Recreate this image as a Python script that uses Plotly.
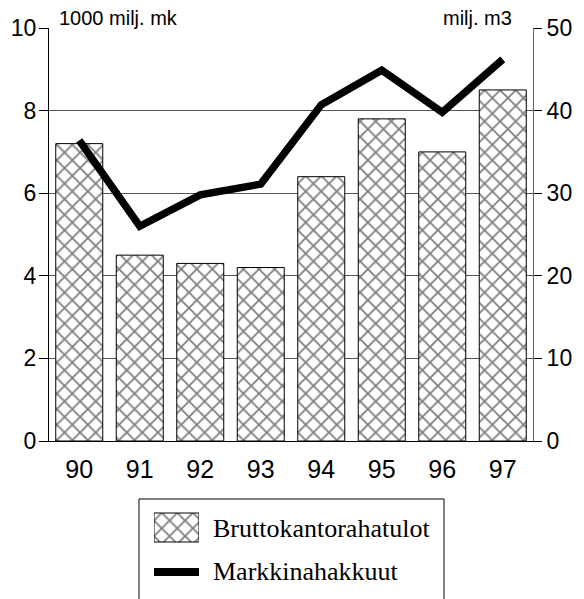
import plotly.graph_objects as go

years = ["90", "91", "92", "93", "94", "95", "96", "97"]
brutto = [7.2, 4.5, 4.3, 4.2, 6.4, 7.8, 7.0, 8.5]          # 1000 milj. mk
hakkuut = [36.4, 26.0, 29.8, 31.1, 40.7, 44.9, 39.8, 46.2]  # milj. m3
left_ticks = [0, 2, 4, 6, 8, 10]
right_ticks = [0, 10, 20, 30, 40, 50]
bar_name = "Bruttokantorahatulot"
line_name = "Markkinahakkuut"
left_unit = "1000 milj. mk"
right_unit = "milj. m3"

W, H = 584, 599
ML, MR, MT, MB = 49, 51, 28, 10
PW, PH = W - ML - MR, H - MT - MB


def px(x):
    return (x - ML) / PW


def py(y):
    return (H - MB - y) / PH


pattern = dict(shape="x", fgcolor="black", bgcolor="white", size=11, solidity=0.3)
sans = "Liberation Sans, Arial, sans-serif"
serif = "Liberation Serif, Times New Roman, serif"

fig = go.Figure()
fig.add_trace(go.Bar(
    x=years, y=brutto, name=bar_name, yaxis="y", xaxis="x",
    marker=dict(color="white", pattern=pattern, line=dict(color="black", width=1)),
    showlegend=False,
))
fig.add_trace(go.Scatter(
    x=years, y=hakkuut, name=line_name, yaxis="y2", xaxis="x",
    mode="lines", line=dict(color="black", width=7.5),
    showlegend=False,
))

# legend swatches drawn on a small helper axis (pixel-like units)
fig.add_trace(go.Bar(
    x=[0], y=[29], base=[43], width=[1], xaxis="x3", yaxis="y3",
    marker=dict(color="white", pattern=pattern, line=dict(color="black", width=1)),
    showlegend=False, hoverinfo="skip",
))
fig.add_trace(go.Scatter(
    x=[-0.5, 0.5], y=[13, 13], xaxis="x3", yaxis="y3", mode="lines",
    line=dict(color="black", width=8), showlegend=False, hoverinfo="skip",
))

main_bottom = py(441)
fig.update_layout(
    width=W, height=H,
    margin=dict(l=ML, r=MR, t=MT, b=MB, pad=0, autoexpand=False),
    paper_bgcolor="white", plot_bgcolor="white",
    bargap=0.223,
    font=dict(family=sans, color="black"),
    xaxis=dict(
        type="category", range=[-0.5, 7.5], domain=[0, 1], anchor="y",
        showline=True, linecolor="black", linewidth=1, ticks="",
        tickfont=dict(size=25, family=sans), ticklabelstandoff=6,
        showgrid=False, zeroline=False, fixedrange=True, automargin=False,
    ),
    yaxis=dict(
        range=[0, 10], tickvals=left_ticks, domain=[main_bottom, 1], anchor="x",
        showline=True, linecolor="black", linewidth=1,
        ticks="outside", ticklen=9, tickcolor="black", tickwidth=1,
        tickfont=dict(size=23, family=sans), ticklabelstandoff=-2,
        showgrid=True, gridcolor="#555555", gridwidth=1, zeroline=False,
        fixedrange=True, automargin=False,
    ),
    yaxis2=dict(
        range=[0, 50], tickvals=right_ticks, overlaying="y", side="right", anchor="x",
        showline=True, linecolor="#666666", linewidth=1,
        ticks="outside", ticklen=8, tickcolor="black", tickwidth=1,
        tickfont=dict(size=23, family=sans),
        showgrid=False, zeroline=False, fixedrange=True, automargin=False,
    ),
    xaxis3=dict(
        domain=[px(154), px(199)], range=[-0.5, 0.5], anchor="y3",
        visible=False, fixedrange=True, automargin=False,
    ),
    yaxis3=dict(
        domain=[py(585), py(505)], range=[0, 80], anchor="x3",
        visible=False, fixedrange=True, automargin=False,
    ),
    showlegend=False,
)

# legend frame (top, left and right edges; the bottom is cut off by the page)
fig.add_shape(
    type="path", xref="paper", yref="paper",
    path=f"M {px(139)},{py(610)} L {px(139)},{py(499)} L {px(444)},{py(499)} L {px(444)},{py(610)}",
    line=dict(color="black", width=1),
)

fig.add_annotation(
    text=bar_name, xref="paper", yref="paper", x=px(211), y=py(528),
    xanchor="left", yanchor="middle", showarrow=False,
    font=dict(family=serif, size=26, color="black"),
)
fig.add_annotation(
    text=line_name, xref="paper", yref="paper", x=px(211), y=py(571),
    xanchor="left", yanchor="middle", showarrow=False,
    font=dict(family=serif, size=26, color="black"),
)

fig.add_annotation(
    text=left_unit, xref="paper", yref="paper", x=px(57), y=1,
    xanchor="left", yanchor="bottom", showarrow=False, yshift=-3,
    font=dict(family=sans, size=20, color="black"),
)
fig.add_annotation(
    text=right_unit, xref="paper", yref="paper", x=px(514), y=1,
    xanchor="right", yanchor="bottom", showarrow=False, yshift=-3,
    font=dict(family=sans, size=20, color="black"),
)

fig.write_html(
    "out.html",
    config={"displayModeBar": False, "staticPlot": True},
    post_script="document.body.style.margin='0';document.body.style.overflow='hidden';",
)
